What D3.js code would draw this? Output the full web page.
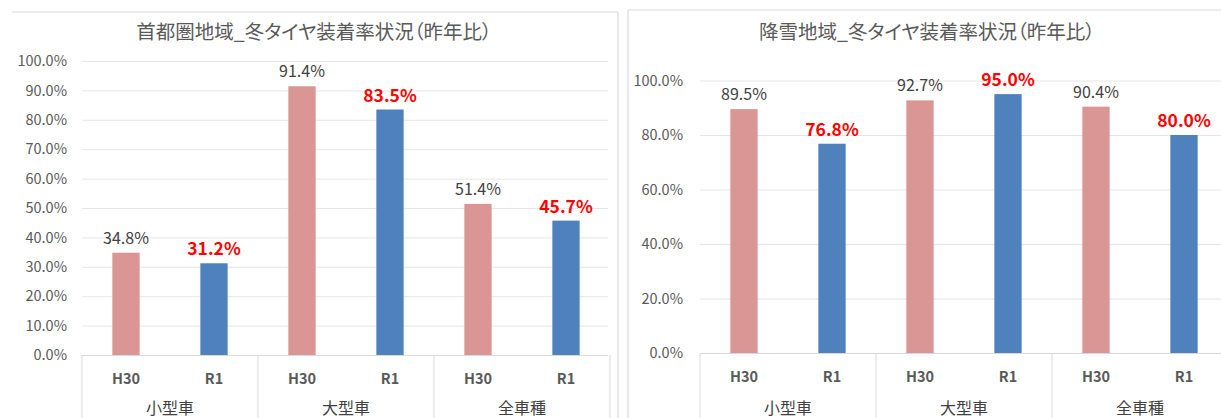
<!DOCTYPE html>
<html><head><meta charset="utf-8">
<script src="https://cdn.jsdelivr.net/npm/d3@7"></script>
<style>
html,body{margin:0;padding:0;background:#fff;}
svg{display:block;font-family:"Noto Sans CJK JP","Noto Sans",sans-serif;}
.title{font-feature-settings:"palt";}
</style></head>
<body>
<svg id="chart" width="1221" height="418"></svg>
<script>
// ---- data ----
const groups = ["小型車", "大型車", "全車種"];
const seriesNames = ["H30", "R1"];
const tokyoH30 = [34.8, 91.4, 51.4];
const tokyoR1 = [31.2, 83.5, 45.7];
const snowH30 = [89.5, 92.7, 90.4];
const snowR1 = [76.8, 95.0, 80.0];
const tokyoTicks = [0, 10, 20, 30, 40, 50, 60, 70, 80, 90, 100];
const snowTicks = [0, 20, 40, 60, 80, 100];
const titles = ["首都圏地域_冬タイヤ装着率状況（昨年比）", "降雪地域_冬タイヤ装着率状況（昨年比）"];

const svg = d3.select("#chart");
const colors = {H30: "#D99694", R1: "#4F81BD"};
const gridCol = "#E6E6E6", axisCol = "#D9D9D9", textCol = "#595959";

function drawChart(cfg) {
  const g = svg.append("g");
  // frame
  g.append("line").attr("x1", cfg.frameX0).attr("x2", cfg.frameX1).attr("y1", cfg.frameY).attr("y2", cfg.frameY)
    .attr("stroke", axisCol).attr("stroke-width", 1.2);
  if (cfg.frameRight != null) g.append("line").attr("x1", cfg.frameRight).attr("x2", cfg.frameRight).attr("y1", cfg.frameY).attr("y2", 418)
    .attr("stroke", axisCol).attr("stroke-width", 1.2);
  if (cfg.frameLeft != null) g.append("line").attr("x1", cfg.frameLeft).attr("x2", cfg.frameLeft).attr("y1", cfg.frameY).attr("y2", 418)
    .attr("stroke", axisCol).attr("stroke-width", 1.2);

  // title
  g.append("text").attr("class", "title").attr("x", cfg.titleX).attr("y", 39).attr("text-anchor", "middle")
    .attr("font-size", 19.5).attr("fill", textCol).text(cfg.title);

  const y = d3.scaleLinear().domain([0, 100]).range([cfg.y0, cfg.y100]);
  const x0 = d3.scaleBand().domain(groups).range([cfg.left, cfg.right]);
  const x1 = d3.scaleBand().domain(seriesNames).range([0, x0.bandwidth()]).paddingInner(0.69).paddingOuter(0.345);

  // gridlines
  const yAxis = d3.axisLeft(y).tickValues(cfg.ticks).tickSize(-(cfg.gridRight - cfg.left)).tickPadding(cfg.tickPad)
    .tickFormat(d => d.toFixed(1) + "%");
  const ya = g.append("g").attr("transform", `translate(${cfg.left},0)`).call(yAxis);
  ya.select(".domain").remove();
  ya.selectAll(".tick line").attr("stroke", gridCol).attr("stroke-width", 1);
  ya.selectAll(".tick text").attr("fill", textCol).attr("font-size", 14.5).attr("font-family", "Noto Sans CJK JP, sans-serif");
  ya.selectAll(".tick").filter(d => d === 0).select("line").attr("stroke", axisCol);

  // category separators
  const bounds = groups.map(d => x0(d)).concat([x0(groups[groups.length - 1]) + x0.bandwidth()]);
  g.selectAll(".sep").data(bounds).enter().append("line")
    .attr("x1", d => d).attr("x2", d => d).attr("y1", cfg.y0).attr("y2", 418)
    .attr("stroke", axisCol).attr("stroke-width", 1);

  const rows = [];
  groups.forEach((gr, i) => {
    rows.push({group: gr, s: "H30", v: cfg.h30[i]});
    rows.push({group: gr, s: "R1", v: cfg.r1[i]});
  });

  g.selectAll(".bar").data(rows).enter().append("rect")
    .attr("x", d => x0(d.group) + x1(d.s)).attr("width", x1.bandwidth())
    .attr("y", d => y(d.v)).attr("height", d => y(0) - y(d.v))
    .attr("fill", d => colors[d.s]);

  g.selectAll(".lbl").data(rows).enter().append("text")
    .attr("x", d => x0(d.group) + x1(d.s) + x1.bandwidth() / 2)
    .attr("y", d => y(d.v) - (d.s === "R1" ? 8 : 9))
    .attr("text-anchor", "middle")
    .attr("font-size", d => d.s === "R1" ? 17.5 : 16)
    .attr("font-weight", d => d.s === "R1" ? "bold" : "normal")
    .attr("fill", d => d.s === "R1" ? "#FF0000" : "#404040")
    .text(d => d.v.toFixed(1) + "%");

  // category (series) labels
  g.selectAll(".cat").data(rows).enter().append("text")
    .attr("x", d => x0(d.group) + x1(d.s) + x1.bandwidth() / 2)
    .attr("y", cfg.y0 + 29).attr("text-anchor", "middle")
    .attr("font-size", 14.5).attr("font-weight", "bold").attr("fill", textCol)
    .text(d => d.s);

  g.selectAll(".grp").data(groups).enter().append("text")
    .attr("x", d => x0(d) + x0.bandwidth() / 2).attr("y", 414).attr("text-anchor", "middle")
    .attr("font-size", 16).attr("fill", "#404040").text(d => d);
}

drawChart({
  title: titles[0], titleX: 314, frameX0: 12, frameX1: 618, frameY: 12, frameRight: 618,
  left: 82, right: 610, gridRight: 608, y0: 355, y100: 61, tickPad: 15,
  ticks: tokyoTicks, h30: tokyoH30, r1: tokyoR1
});
drawChart({
  title: titles[1], titleX: 927, frameX0: 628, frameX1: 1221, frameY: 10, frameLeft: 628,
  left: 700, right: 1228, gridRight: 1228, y0: 353, y100: 80.5, tickPad: 17,
  ticks: snowTicks, h30: snowH30, r1: snowR1
});
</script>
</body></html>
